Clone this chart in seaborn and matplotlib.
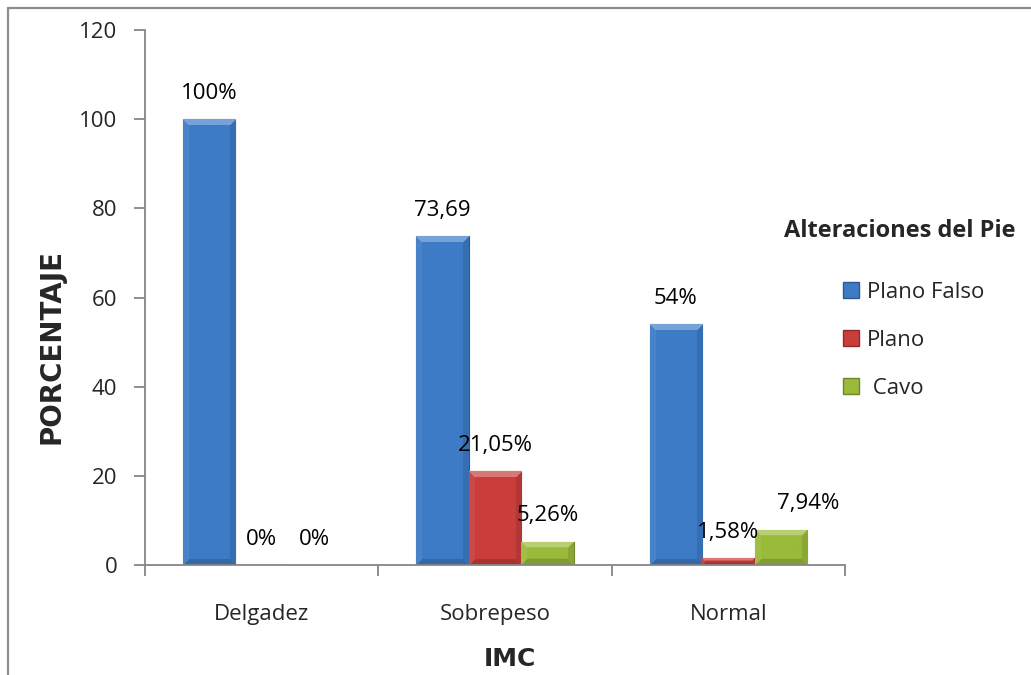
import numpy as np
import pandas as pd
import matplotlib
matplotlib.use("Agg")
import matplotlib.pyplot as plt
import seaborn as sns
from matplotlib.lines import Line2D
from matplotlib.patches import Patch
from matplotlib.colors import to_rgb

# --- data ---------------------------------------------------------------
categorias = ["Delgadez", "Sobrepeso", "Normal"]
alteraciones = ["Plano Falso", "Plano", " Cavo"]
plano_falso = [100, 73.69, 54]
plano = [0, 21.05, 1.58]
cavo = [0, 5.26, 7.94]
etiquetas_plano_falso = ["100%", "73,69", "54%"]
etiquetas_plano = ["0%", "21,05%", "1,58%"]
etiquetas_cavo = ["0%", "5,26%", "7,94%"]
y_ticks = [0, 20, 40, 60, 80, 100, 120]

colores = ["#3d7bc6", "#c93d3a", "#9aba3a"]
gris = "#868686"

df = pd.DataFrame({
    "IMC": categorias * 3,
    "Alteración": [a for a in alteraciones for _ in categorias],
    "Porcentaje": plano_falso + plano + cavo,
})
etiquetas = [etiquetas_plano_falso, etiquetas_plano, etiquetas_cavo]

sns.set_theme(style="white")
plt.rcParams["font.family"] = ["Open Sans", "DejaVu Sans"]
FS = 16

W, H = 1031, 675
fig = plt.figure(figsize=(W / 100, H / 100), dpi=100)
ax = fig.add_axes([145 / W, 1 - 565 / H, 700 / W, 535 / H])

sns.barplot(data=df, x="IMC", y="Porcentaje", hue="Alteración",
            order=categorias, hue_order=alteraciones, palette=colores,
            width=0.675, saturation=1, ax=ax, legend=False, zorder=3)


def tono(c, f):
    """f > 1 lightens towards white, f < 1 darkens."""
    c = np.array(to_rgb(c))
    if f >= 1:
        return c + (1 - c) * (f - 1)
    return c * f


# --- axes styling -------------------------------------------------------
ax.set_xlim(-0.5, 2.5)
ax.set_ylim(0, 120)
ax.set_yticks(y_ticks)
ax.set_yticklabels([str(v) for v in y_ticks])
for s in ["top", "right"]:
    ax.spines[s].set_visible(False)
for s in ["left", "bottom"]:
    ax.spines[s].set_color(gris)
    ax.spines[s].set_linewidth(1.3)
    ax.spines[s].set_zorder(5)
ax.tick_params(axis="y", direction="out", length=8, width=1.3, color=gris,
               pad=12, labelsize=FS, left=True)
ax.set_xticks([-0.5, 0.5, 1.5, 2.5], minor=True)
ax.tick_params(axis="x", which="major", length=0, pad=28, labelsize=FS)
ax.tick_params(axis="x", which="minor", direction="out", length=8,
               width=1.3, color=gris, bottom=True)

# bevelled shading laid over every bar
px_x = 700 / 3.0
px_y = 535 / 120.0
bisel = 6
for cont, col in zip(ax.containers, colores):
    for p in cont:
        p.set_edgecolor(tono(col, 0.72))
        p.set_linewidth(0.8)
        x0, y0, w, h = p.get_x(), p.get_y(), p.get_width(), p.get_height()
        nw = max(int(round(w * px_x)), 2)
        nh = max(int(round(h * px_y)), 1)
        if nh < 2:
            continue
        base = np.array(to_rgb(col))
        img = np.tile(base, (nh, nw, 1))
        ii, jj = np.mgrid[0:nh, 0:nw]
        d = np.stack([ii, jj, nw - 1 - jj, nh - 1 - ii])
        lado = d.argmin(axis=0)
        cerca = d.min(axis=0) < min(bisel, nh // 2)
        factores = [1.30, 1.06, 0.90, 0.84]
        for k, f in enumerate(factores):
            m = cerca & (lado == k)
            img[m] = tono(col, f)
        im = ax.imshow(img, extent=(x0, x0 + w, y0, y0 + h), origin="upper",
                       aspect="auto", interpolation="bilinear", zorder=4)
        im.set_clip_path(p)

for cont, labs in zip(ax.containers, etiquetas):
    ax.bar_label(cont, labels=labs, padding=11, fontsize=FS, color="black",
                 zorder=6)

# the Cavo label in "Normal" sits a little to the right
for t in ax.texts:
    if t.get_text() == "7,94%":
        t.xyann = (t.xyann[0] + 20, t.xyann[1])

ax.set_xlim(-0.5, 2.5)
ax.set_ylim(0, 120)

ax.set_ylabel("PORCENTAJE", fontsize=20, fontweight="bold",
              family="DejaVu Sans")
ax.yaxis.set_label_coords((66 - 145) / 700, (565 - 346) / 535)
ax.set_xlabel("IMC", fontsize=18, fontweight="bold", family="DejaVu Sans")
ax.xaxis.set_label_coords((510 - 145) / 700, (565 - 647) / 535)

# --- legend -------------------------------------------------------------
handles = [Patch(facecolor=c, edgecolor=tono(c, 0.72)) for c in colores]
fig.legend(handles, alteraciones, loc="upper left",
           bbox_to_anchor=(843 / W, 1 - 282 / H), frameon=False,
           fontsize=FS, handlelength=0.72, handleheight=0.72,
           handletextpad=0.35, labelspacing=1.21, borderpad=0,
           borderaxespad=0)
fig.text(900 / W, 1 - 231 / H, "Alteraciones del Pie", ha="center",
         va="center", fontsize=17, fontweight="bold")

# --- chart frame ----------------------------------------------------------
fig.add_artist(Line2D([8 / W, 1], [1 - 7.5 / H, 1 - 7.5 / H],
                      color="#8c8c8c", lw=1.6, transform=fig.transFigure))
fig.add_artist(Line2D([8 / W, 8 / W], [0, 1 - 7.5 / H],
                      color="#8c8c8c", lw=1.6, transform=fig.transFigure))

fig.savefig("out.png", dpi=100)
